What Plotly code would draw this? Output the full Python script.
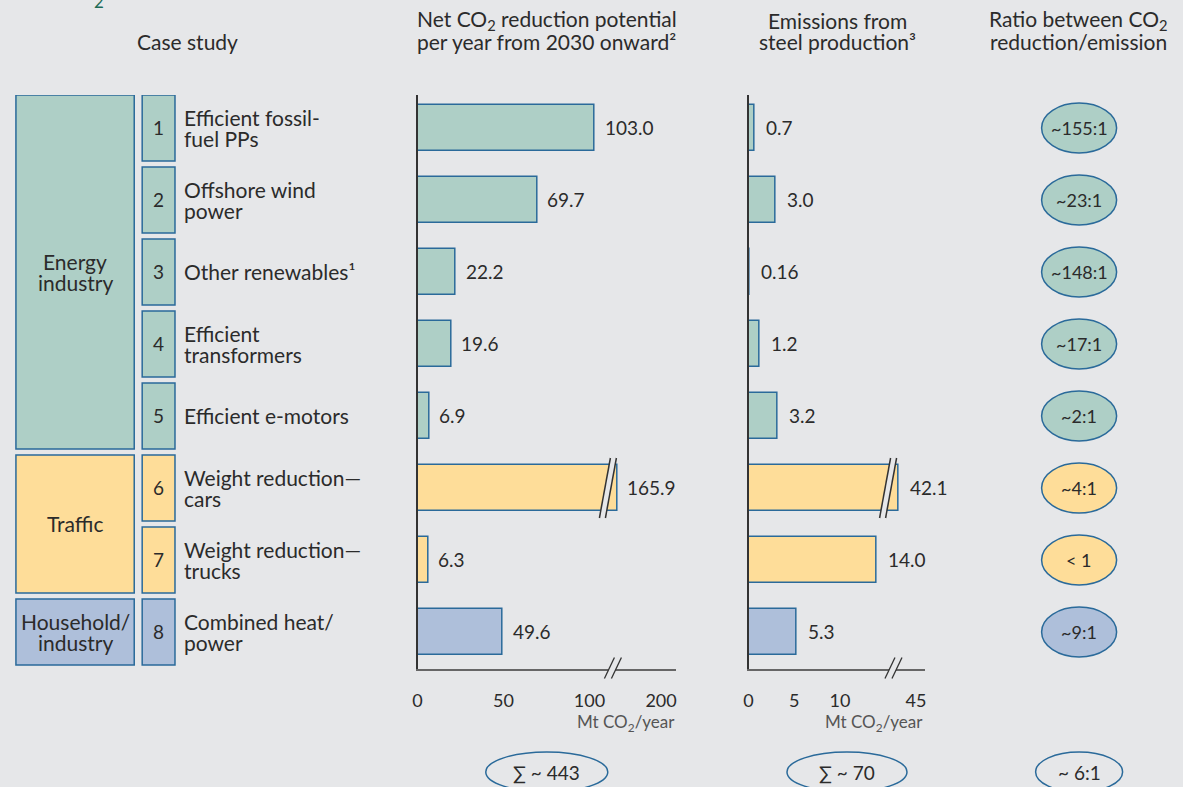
import plotly.graph_objects as go

# --- data -------------------------------------------------------------
rows = [1, 2, 3, 4, 5, 6, 7, 8]
cases = ["Efficient fossil-<br>fuel PPs", "Offshore wind<br>power", "Other renewables¹",
         "Efficient<br>transformers", "Efficient e-motors", "Weight reduction—<br>cars",
         "Weight reduction—<br>trucks", "Combined heat/<br>power"]
sector = ["energy"] * 5 + ["traffic"] * 2 + ["household"]
net_co2 = [103.0, 69.7, 22.2, 19.6, 6.9, 165.9, 6.3, 49.6]   # Mt CO2/year
steel = [0.7, 3.0, 0.16, 1.2, 3.2, 42.1, 14.0, 5.3]          # Mt CO2/year
ratio = ["~155:1", "~23:1", "~148:1", "~17:1", "~2:1", "~4:1", "< 1", "~9:1"]
groups = [("Energy<br>industry", 1, 5, "energy"),
          ("Traffic", 6, 7, "traffic"),
          ("Household/<br>industry", 8, 8, "household")]
totals = ["∑ ~ 443", "∑ ~ 70", "~ 6:1"]

net_ticks = [0, 50, 100, 200]
steel_ticks = [0, 5, 10, 45]

# broken axes: values past the break are drawn squeezed
NET_CUT, NET_TOP = 116.2, 141.6      # where the long bar stops / where "200" sits
STEEL_CUT, STEEL_TOP = 16.4, 18.3

# --- style ------------------------------------------------------------
W, H = 1183, 787
BG = "#e6e7e9"
EDGE = "#2a6a9a"
TXT = "#2b2b2b"
FONT = "Lato, 'Noto Sans', sans-serif"
FILL = {"energy": "#aecfc6", "traffic": "#fedd99", "household": "#aebfda"}


def px(x):
    return x / W


def py(y):
    return 1 - y / H


def tickpos(ticks, top):
    return ticks[:3] + [top]


net_disp = [min(v, NET_CUT) for v in net_co2]
steel_disp = [min(v, STEEL_CUT) for v in steel]
colors = [FILL[s] for s in sector]


def fmt(v):
    return f"{v:.2f}" if v < 0.5 else f"{v:.1f}"


fig = go.Figure()
fig.add_trace(go.Bar(x=net_disp, y=rows, orientation="h", width=0.64,
                     marker=dict(color=colors, line=dict(color=EDGE, width=1.5)),
                     xaxis="x", yaxis="y", hoverinfo="skip"))
fig.add_trace(go.Bar(x=steel_disp, y=rows, orientation="h", width=0.64,
                     marker=dict(color=colors, line=dict(color=EDGE, width=1.5)),
                     xaxis="x2", yaxis="y2", hoverinfo="skip"))

ann = []
shapes = []


def note(text, x, y, size=21, color=TXT, xanchor="center", xref="paper", yref="paper",
         gap=21.5, **kw):
    # one annotation per line so the line spacing stays tight
    lines = text.split("<br>")
    n = len(lines)
    for i, line in enumerate(lines):
        ann.append(dict(text=line, x=x, y=y, xref=xref, yref=yref, xanchor=xanchor,
                        yanchor="middle", showarrow=False,
                        yshift=((n - 1) / 2 - i) * gap,
                        font=dict(family=FONT, size=size, color=color), **kw))


# value labels next to the bars
for r, v, d in zip(rows, net_co2, net_disp):
    note(fmt(v), d, r, size=19, xanchor="left", xref="x", yref="y", xshift=8)
for r, v, d in zip(rows, steel, steel_disp):
    note(fmt(v), d, r, size=19, xanchor="left", xref="x2", yref="y", xshift=9)

# case-study boxes
HALF = 0.458
for name, a, b, key in groups:
    shapes.append(dict(type="rect", xref="paper", yref="y", x0=px(11), x1=px(130),
                       y0=a - HALF, y1=b + HALF, fillcolor=FILL[key],
                       line=dict(color=EDGE, width=1.5), layer="below"))
    note(name, px(70.5), (a + b) / 2, yref="y")
for r, s, c in zip(rows, sector, cases):
    shapes.append(dict(type="rect", xref="paper", yref="y", x0=px(138), x1=px(171),
                       y0=r - HALF, y1=r + HALF, fillcolor=FILL[s],
                       line=dict(color=EDGE, width=1.5), layer="below"))
    note(str(r), px(154.5), r, size=19, yref="y")
    note(c, px(178), r, xanchor="left", yref="y")

# ratio ellipses
for r, s, t in zip(rows, sector, ratio):
    shapes.append(dict(type="circle", xref="paper", yref="y",
                       xsizemode="pixel", xanchor=px(1080.5), x0=-37.5, x1=37.5,
                       ysizemode="pixel", yanchor=r, y0=-25, y1=25,
                       fillcolor=FILL[s], line=dict(color=EDGE, width=1.5)))
    note(t, px(1080.5), r, size=18, yref="y")

# totals at the bottom
for t, cx, w in zip(totals, [545, 847, 1080.5], [122, 120, 87]):
    shapes.append(dict(type="circle", xref="paper", yref="paper",
                       xsizemode="pixel", xanchor=px(cx), x0=-w / 2, x1=w / 2,
                       ysizemode="pixel", yanchor=py(772), y0=-20, y1=20,
                       fillcolor=BG, line=dict(color=EDGE, width=1.5)))
    note(t, px(cx), py(772), size=19)


# break marks: two slashes with a background gap between them
def slashes(xref, xa, yref, ya, h, lean, offs, width=1.5):
    a, b = offs
    path = (f"M {a - lean / 2} {-h} L {a + lean / 2} {h} "
            f"L {b + lean / 2} {h} L {b - lean / 2} {-h} Z")
    base = dict(xref=xref, yref=yref, xsizemode="pixel", xanchor=xa,
                ysizemode="pixel", yanchor=ya)
    shapes.append(dict(type="path", path=path, fillcolor=BG, line=dict(width=0), **base))
    for o in offs:
        shapes.append(dict(type="line", x0=o - lean / 2, y0=-h, x1=o + lean / 2, y1=h,
                           line=dict(color="#333333", width=width), **base))


slashes("x", 110.4, "y", 6, 30, 11, (-2.5, 3.5))
slashes("x2", 15.2, "y", 6, 30, 11, (-2.5, 3.5))
slashes("x", 113.9, "paper", py(668), 10.5, 10, (-4, 3), width=1.3)
slashes("x2", 15.9, "paper", py(668), 10.5, 10, (-4, 3), width=1.3)

# headers
note("Case study", px(184), py(42))
note("Net CO<sub>2</sub> reduction potential<br>per year from 2030 onward²", px(545), py(31))
note("Emissions from<br>steel production³", px(837), py(31))
note("Ratio between CO<sub>2</sub><br>reduction/emission", px(1080), py(31))
note("2", px(95), py(1), size=17, color="#1d6b57")
note("Mt CO<sub>2</sub>/year", px(676), py(723), size=17, color="#555555", xanchor="right")
note("Mt CO<sub>2</sub>/year", px(925), py(723), size=17, color="#555555", xanchor="right")

axis_common = dict(showgrid=False, zeroline=False, showline=True, linecolor="#666666",
                   linewidth=2, ticks="outside", ticklen=14, tickcolor="rgba(0,0,0,0)",
                   tickfont=dict(family=FONT, size=18, color=TXT), fixedrange=True)
y_common = dict(range=[8.514, 0.542], domain=[py(669), py(95)], showgrid=False,
                zeroline=False, showticklabels=False, showline=True, linecolor="#333333",
                linewidth=1.5, fixedrange=True)

fig.update_layout(
    width=W, height=H, margin=dict(l=0, r=0, t=0, b=0),
    paper_bgcolor=BG, plot_bgcolor=BG, showlegend=False, bargap=0,
    xaxis=dict(domain=[px(415), px(675)], range=[0, 260 / 1.73], anchor="y",
               tickvals=tickpos(net_ticks, NET_TOP), ticktext=[str(t) for t in net_ticks],
               **axis_common),
    xaxis2=dict(domain=[px(748), px(925)], range=[0, 177 / 9.2], anchor="y2",
                tickvals=tickpos(steel_ticks, STEEL_TOP), ticktext=[str(t) for t in steel_ticks],
                **axis_common),
    yaxis=dict(anchor="x", **y_common),
    yaxis2=dict(anchor="x2", **y_common),
    annotations=ann, shapes=shapes,
)

fig.write_html("out.html", config={"displayModeBar": False},
               post_script="document.body.style.margin='0';")
